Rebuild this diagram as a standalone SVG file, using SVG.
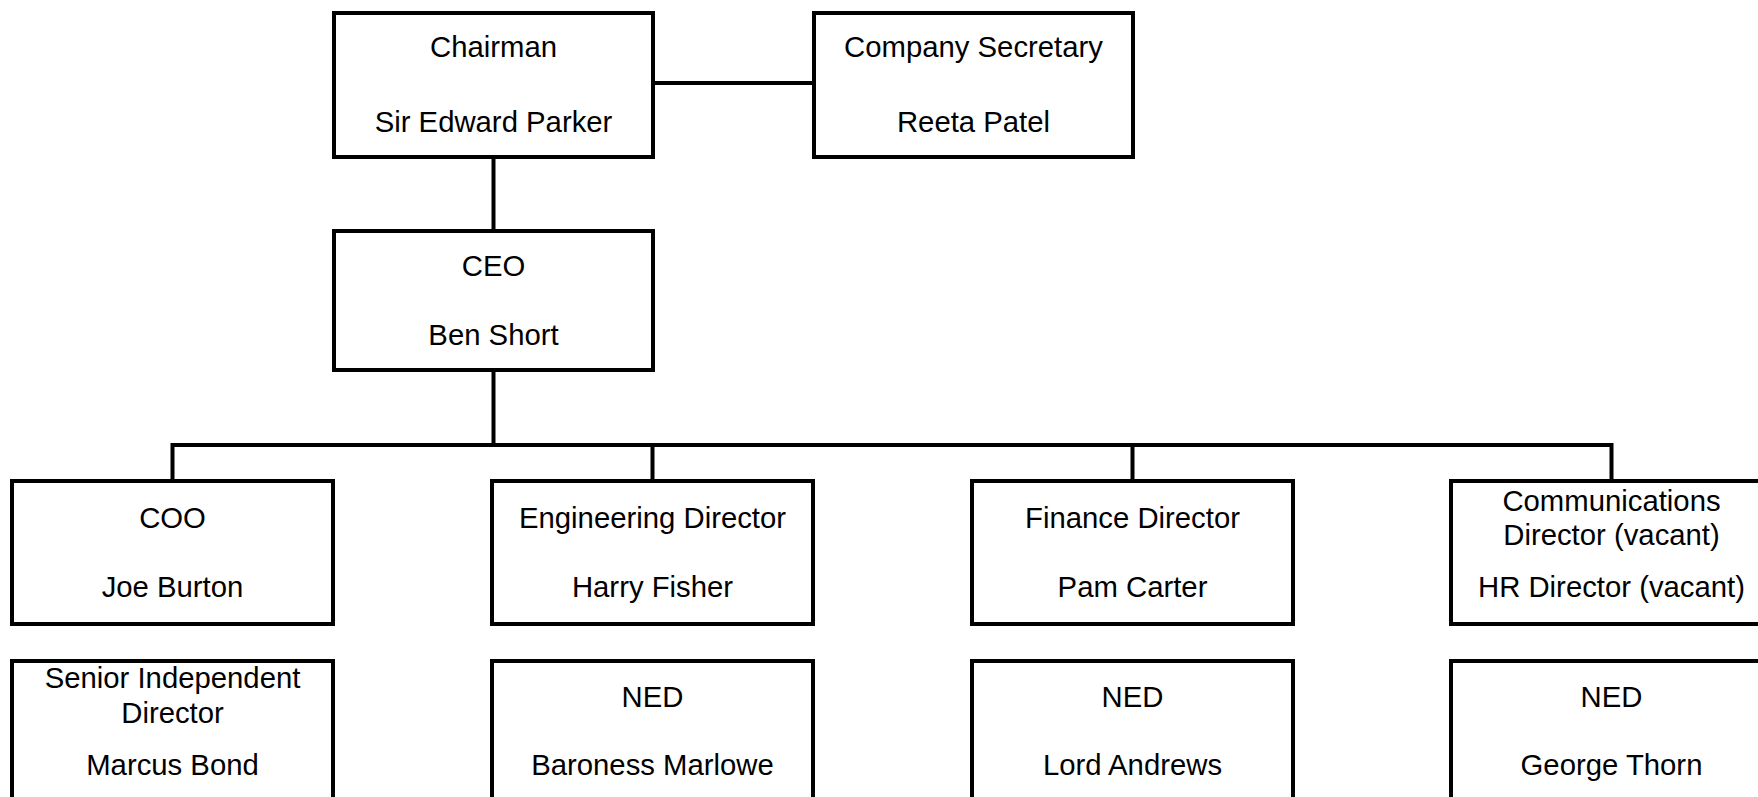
<svg xmlns="http://www.w3.org/2000/svg" width="1758" height="797" viewBox="0 0 1758 797">
<style>
.box{fill:#fff;stroke:#000;stroke-width:4}
.ln{fill:none;stroke:#000;stroke-width:4;stroke-linejoin:miter;stroke-linecap:butt}
text{font-family:"Liberation Sans",Arial,sans-serif;font-size:29.3px;fill:#000;text-anchor:middle}
</style>
<rect width="1758" height="797" fill="#fff"/>
<g id="connectors">
<path class="ln" d="M653 83 H814"/>
<path class="ln" d="M493.5 157 V231"/>
<path class="ln" d="M493.5 370 V445"/>
<path class="ln" d="M172.5 481 V445 H1611.5 V481"/>
<path class="ln" d="M652.5 445 V481"/>
<path class="ln" d="M1132.5 445 V481"/>
</g>
<g id="chairman">
<rect class="box" x="334" y="13" width="319" height="144"/>
<text x="493.5" y="56.7">Chairman</text>
<text x="493.5" y="131.7">Sir Edward Parker</text>
</g>
<g id="secretary">
<rect class="box" x="814" y="13" width="319" height="144"/>
<text x="973.5" y="56.7">Company Secretary</text>
<text x="973.5" y="131.7">Reeta Patel</text>
</g>
<g id="ceo">
<rect class="box" x="334" y="231" width="319" height="139"/>
<text x="493.5" y="276">CEO</text>
<text x="493.5" y="345">Ben Short</text>
</g>
<g id="coo">
<rect class="box" x="12" y="481" width="321" height="143"/>
<text x="172.5" y="528">COO</text>
<text x="172.5" y="597">Joe Burton</text>
</g>
<g id="engineering">
<rect class="box" x="492" y="481" width="321" height="143"/>
<text x="652.5" y="528">Engineering Director</text>
<text x="652.5" y="597">Harry Fisher</text>
</g>
<g id="finance">
<rect class="box" x="972" y="481" width="321" height="143"/>
<text x="1132.5" y="528">Finance Director</text>
<text x="1132.5" y="597">Pam Carter</text>
</g>
<g id="communications">
<rect class="box" x="1451" y="481" width="321" height="143"/>
<text x="1611.5" y="511">Communications</text>
<text x="1611.5" y="545">Director (vacant)</text>
<text x="1611.5" y="597">HR Director (vacant)</text>
</g>
<g id="sid">
<rect class="box" x="12" y="661" width="321" height="143"/>
<text x="172.5" y="688">Senior Independent</text>
<text x="172.5" y="723">Director</text>
<text x="172.5" y="775">Marcus Bond</text>
</g>
<g id="ned1">
<rect class="box" x="492" y="661" width="321" height="143"/>
<text x="652.5" y="707">NED</text>
<text x="652.5" y="775">Baroness Marlowe</text>
</g>
<g id="ned2">
<rect class="box" x="972" y="661" width="321" height="143"/>
<text x="1132.5" y="707">NED</text>
<text x="1132.5" y="775">Lord Andrews</text>
</g>
<g id="ned3">
<rect class="box" x="1451" y="661" width="321" height="143"/>
<text x="1611.5" y="707">NED</text>
<text x="1611.5" y="775">George Thorn</text>
</g>
</svg>
